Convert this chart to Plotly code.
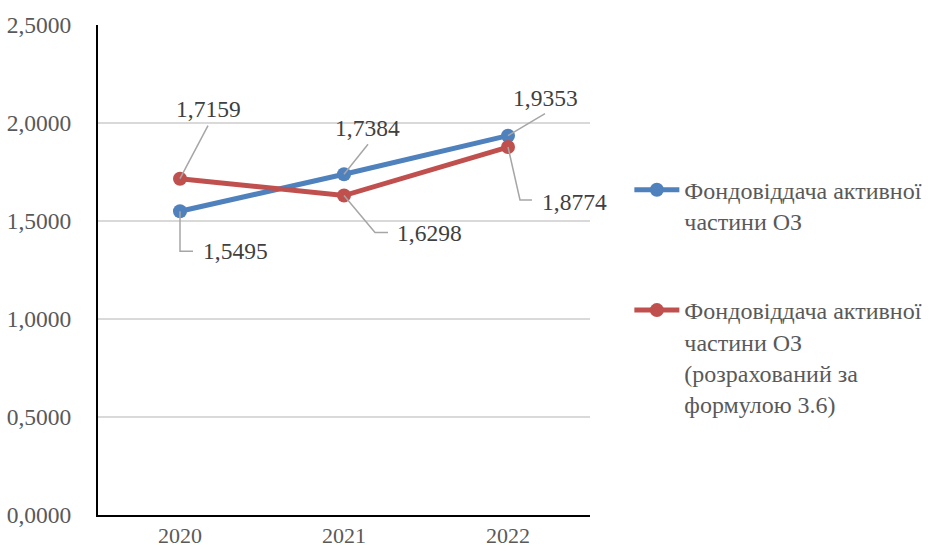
import plotly.graph_objects as go

# Categories and series values
years = ["2020", "2021", "2022"]
active_ratio = [1.5495, 1.7384, 1.9353]
active_ratio_calc = [1.7159, 1.6298, 1.8774]
series_names = [
    "Фондовіддача активної<br>частини ОЗ",
    "Фондовіддача активної<br>частини ОЗ<br>(розрахований за<br>формулою 3.6)",
]
y_ticks = [0.0, 0.5, 1.0, 1.5, 2.0, 2.5]

BLUE = "#4F81BD"
RED = "#C0504D"
FONT = "Liberation Serif"


def fmt(v):
    return f"{v:.4f}".replace(".", ",")


fig = go.Figure()
for name, vals, col in [
    (series_names[0], active_ratio, BLUE),
    (series_names[1], active_ratio_calc, RED),
]:
    fig.add_trace(go.Scatter(
        x=years, y=vals, name=name, mode="lines+markers",
        line=dict(color=col, width=5),
        marker=dict(color=col, size=14),
        legendgroup=name,
    ))

# label placement: text offset (dx, dy) and leader path, pixels relative to the point (y up)
label_layout = {
    ("b", 0): ((55, -40), [(0, 0), (0, -40), (13, -40)]),
    ("b", 1): ((23, 46), [(0, 0), (24, 30)]),
    ("b", 2): ((37, 38), [(0, 0), (37, 22)]),
    ("r", 0): ((28, 70), [(0, 0), (28, 53)]),
    ("r", 1): ((85, -37), [(0, 0), (31, -37), (44, -37)]),
    ("r", 2): ((66, -55), [(0, 0), (12, -53), (24, -53)]),
}

for key, vals in [("b", active_ratio), ("r", active_ratio_calc)]:
    for i, v in enumerate(vals):
        (dx, dy), pts = label_layout[(key, i)]
        fig.add_annotation(
            x=i, y=v, xref="x", yref="y", text=fmt(v), showarrow=False,
            xshift=dx, yshift=dy, font=dict(family=FONT, size=23.5, color="#404040"),
        )
        path = "M" + " L".join(f"{px},{py}" for px, py in pts)
        fig.add_shape(
            type="path", xref="x", yref="y", xsizemode="pixel", ysizemode="pixel",
            xanchor=i, yanchor=v, path=path,
            line=dict(color="#A6A6A6", width=1.5),
        )

fig.update_layout(
    width=931, height=551,
    margin=dict(l=98, r=341, t=25, b=36, autoexpand=False),
    paper_bgcolor="white", plot_bgcolor="white",
    separators=", ",
    font=dict(family=FONT, size=23.5, color="#595959"),
    showlegend=True,
    legend=dict(
        x=1.08, y=0.709, xanchor="left", yanchor="top",
        font=dict(family=FONT, size=24, color="#595959"),
        tracegroupgap=55, valign="top", itemwidth=45,
        bgcolor="rgba(0,0,0,0)",
    ),
)
fig.update_xaxes(
    type="category", range=[-0.5, 2.5], showline=True, linecolor="black", linewidth=2,
    showgrid=False, ticks="", ticklabelstandoff=0, automargin=False,
    tickfont=dict(family=FONT, size=22, color="#595959"),
)
fig.update_yaxes(
    range=[0, 2.5], tickvals=y_ticks, tickformat=".4f", automargin=False,
    showline=True, linecolor="black", linewidth=2,
    showgrid=True, gridcolor="#D9D9D9", gridwidth=1.5, zeroline=False,
    ticks="", ticklabelstandoff=20,
    tickfont=dict(family=FONT, size=23.5, color="#595959"),
)

fig.write_html("out.html")
